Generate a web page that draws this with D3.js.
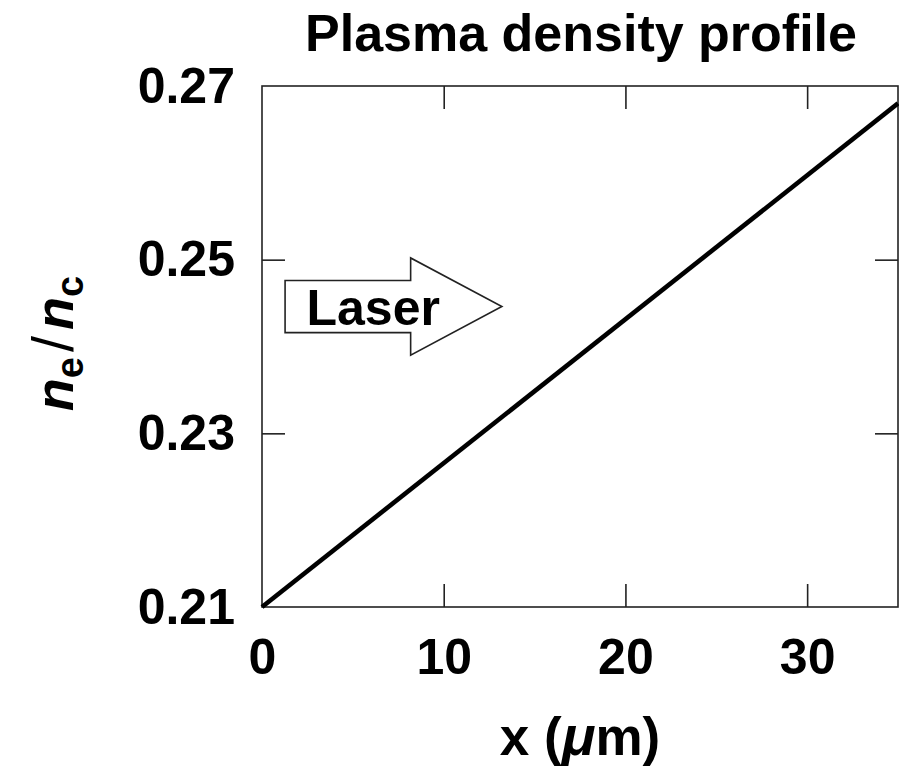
<!DOCTYPE html>
<html>
<head>
<meta charset="utf-8">
<script src="https://cdn.jsdelivr.net/npm/d3@7"></script>
<style>
  body { margin: 0; background: #fff; }
  text { font-family: "Liberation Sans", Arial, Helvetica, sans-serif; font-weight: bold; fill: #000; }
</style>
</head>
<body>
<div id="graph"></div>
<script>
// data
var xPos = [0, 35];
var density = [0.21, 0.268];
var xTicks = [0, 10, 20, 30];
var yTicks = [0.21, 0.23, 0.25, 0.27];
// laser arrow annotation, in data units: tail, head base, tip; body and head half-heights
var arrowX = [1.27, 8.18, 13.2];
var arrowY = [0.2446, 0.0030, 0.0056];

var margin = {top: 86, right: 1, bottom: 159, left: 262},
    width = 899 - margin.left - margin.right,
    height = 766 - margin.top - margin.bottom;

var svg = d3.select("#graph")
  .append("svg")
    .attr("width", 899)
    .attr("height", 766)
  .append("g")
    .attr("transform", "translate(" + margin.left + "," + margin.top + ")");

var x = d3.scaleLinear().domain([0, 35]).range([0, width]);
var y = d3.scaleLinear().domain([0.21, 0.27]).range([height, 0]);

var tickLen = 23;

function styleAxis(g) {
  g.select(".domain").remove();
  g.selectAll(".tick line").attr("stroke", "#222").attr("stroke-width", 1.6);
  g.selectAll(".tick text").style("font-size", "50px").style("font-family", "Liberation Sans, Arial, sans-serif").style("font-weight", "bold").attr("fill", "#000");
}

// bottom / top
svg.append("g")
  .attr("transform", "translate(0," + height + ")")
  .call(d3.axisBottom(x).tickValues(xTicks).tickSize(-tickLen).tickPadding(31).tickFormat(d3.format("d")))
  .call(styleAxis);
svg.append("g")
  .call(d3.axisTop(x).tickValues(xTicks.slice(1)).tickSize(-tickLen).tickFormat(""))
  .call(styleAxis);

// left / right
svg.append("g")
  .call(d3.axisLeft(y).tickValues(yTicks).tickSize(-tickLen).tickPadding(27).tickFormat(d3.format(".2f")))
  .call(styleAxis);
svg.append("g")
  .attr("transform", "translate(" + width + ",0)")
  .call(d3.axisRight(y).tickValues(yTicks.slice(1, 3)).tickSize(-tickLen).tickFormat(""))
  .call(styleAxis);

// no tick marks at the corners
svg.selectAll("g.tick").filter(function(d) { return d === 0.21 || d === 0.27 || d === 0; })
  .select("line").attr("stroke", "none");

// frame
svg.append("rect")
  .attr("x", 0).attr("y", 0)
  .attr("width", width).attr("height", height)
  .attr("fill", "none")
  .attr("stroke", "#222")
  .attr("stroke-width", 1.6);

// density line
var pts = xPos.map(function(d, i) { return {x: d, y: density[i]}; });
svg.append("path")
  .datum(pts)
  .attr("fill", "none")
  .attr("stroke", "#000")
  .attr("stroke-width", 4.6)
  .attr("d", d3.line().x(d => x(d.x)).y(d => y(d.y)));

// laser arrow
var yc = arrowY[0], bh = arrowY[1], hh = arrowY[2];
var arrowPts = [
  [arrowX[0], yc + bh], [arrowX[1], yc + bh], [arrowX[1], yc + hh],
  [arrowX[2], yc], [arrowX[1], yc - hh], [arrowX[1], yc - bh], [arrowX[0], yc - bh]
];
svg.append("path")
  .attr("d", "M" + arrowPts.map(p => x(p[0]) + "," + y(p[1])).join("L") + "Z")
  .attr("fill", "#fff")
  .attr("stroke", "#222")
  .attr("stroke-width", 1.6);
svg.append("text")
  .attr("x", x(2.45))
  .attr("y", y(yc) + 18)
  .style("font-size", "50px")
  .text("Laser");

// title
svg.append("text")
  .attr("x", width / 2 + 1)
  .attr("y", -35)
  .attr("text-anchor", "middle")
  .style("font-size", "52px")
  .text("Plasma density profile");

// x label
var xl = svg.append("text")
  .attr("x", width / 2)
  .attr("y", height + 148)
  .attr("text-anchor", "middle")
  .style("font-size", "53px");
xl.append("tspan").text("x (");
xl.append("tspan").style("font-style", "italic").style("font-size", "56px").text("\u03bc");
xl.append("tspan").text("m)");

// y label
var yl = svg.append("text")
  .attr("transform", "translate(" + (73 - margin.left) + "," + (height / 2 - 3) + ") rotate(-90)")
  .attr("text-anchor", "middle")
  .style("font-size", "54px");
yl.append("tspan").style("font-style", "italic").text("n");
yl.append("tspan").attr("dy", 10).style("font-size", "38px").text("e");
yl.append("tspan").attr("dy", -10).attr("dx", 5).style("font-weight", "normal").style("font-size", "58px").text("/");
yl.append("tspan").attr("dx", 6).style("font-style", "italic").text("n");
yl.append("tspan").attr("dy", 10).style("font-size", "38px").text("c");
</script>
</body>
</html>
